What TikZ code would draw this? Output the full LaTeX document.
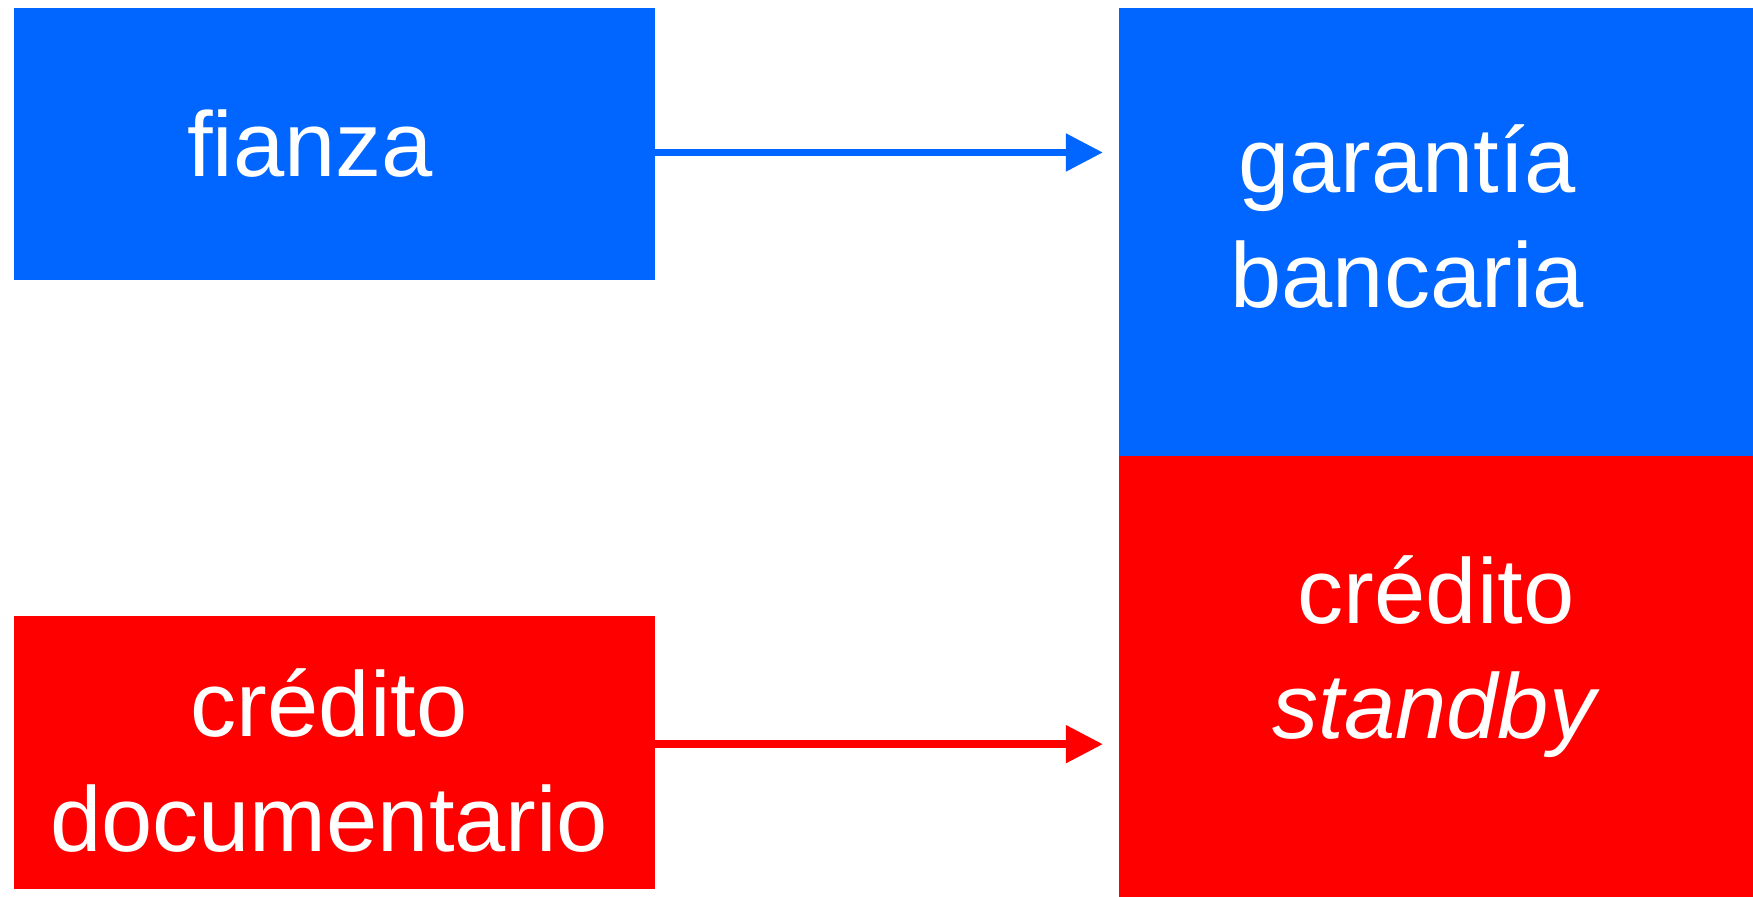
\documentclass[tikz,border=0pt]{standalone}
\usepackage{fontspec}
\setmainfont{Liberation Sans}
\usetikzlibrary{arrows.meta}
\definecolor{boxblue}{RGB}{0,102,255}
\definecolor{boxred}{RGB}{255,0,0}
\begin{document}
\begin{tikzpicture}[x=0.01cm,y=-0.01cm,
box/.style={rectangle,inner sep=0pt,outer sep=0pt,anchor=north west},
bluebox/.style={box,fill=boxblue},
redbox/.style={box,fill=boxred},
txt/.style={text=white,align=center,anchor=base,inner sep=0pt,font=\fontsize{26.2pt}{32.7pt}\selectfont},
link/.style={line width=2.2pt,-{Triangle[length=3.7mm,width=3.6mm]}}]

\useasboundingbox (0,0) rectangle (1753,897);

\node[bluebox,minimum width=6.41cm,minimum height=2.72cm] (F) at (13.5,8) {};
\node[redbox,minimum width=6.41cm,minimum height=2.73cm] (CD) at (13.5,616) {};
\node[bluebox,minimum width=6.34cm,minimum height=4.48cm] (GB) at (1119,8) {};
\node[redbox,minimum width=6.34cm,minimum height=4.41cm] (CS) at (1119,456) {};

% base anchor sits on the last line
\node[txt] (Ft) at ([shift={(-24,32)}]F.center) {fianza};
\node[txt] (CDt) at ([shift={(-5,98.5)}]CD.center) {crédito\\documentario};
\node[txt] (GBt) at ([shift={(-29,75)}]GB.center) {garantía\\bancaria};
\node[txt] (CSt) at ([shift={(0,61.5)}]CS.center) {crédito\\\textit{standby}};

\coordinate (Fout) at ([yshift=-0.84mm]F.east);
\coordinate (CDout) at ([yshift=0.84mm]CD.east);
\draw[link,boxblue] (Fout) -- ([xshift=-1.6mm]GB.west |- Fout);
\draw[link,boxred] (CDout) -- ([xshift=-1.6mm]CS.west |- CDout);

\end{tikzpicture}
\end{document}
